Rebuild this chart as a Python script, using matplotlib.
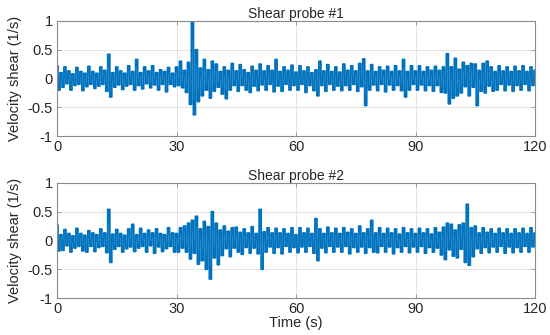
import numpy as np
import matplotlib
matplotlib.use("Agg")
import matplotlib.pyplot as plt

plt.rcParams['font.family'] = ['Liberation Sans', 'DejaVu Sans']
plt.rcParams['axes.unicode_minus'] = False

# Time axis: samples every 0.5 s from 0 to 120 s
time_s = np.arange(0, 120.01, 0.5)

# Probe #1 velocity shear (1/s), alternating peak readings
probe1 = [
    0.22, -0.2, 0.1, -0.15, 0.2, -0.09, 0.13, -0.2, 0.08, -0.12,
    0.19, -0.1, 0.12, -0.21, 0.09, -0.14, 0.21, -0.1, 0.12, -0.17,
    0.09, -0.13, 0.2, -0.1, 0.14, -0.22, 0.42, -0.32, 0.1, -0.15,
    0.2, -0.11, 0.13, -0.19, 0.09, -0.13, 0.22, -0.1, 0.12, -0.2,
    0.33, -0.12, 0.1, -0.18, 0.2, -0.09, 0.13, -0.16, 0.22, -0.11,
    0.1, -0.2, 0.15, -0.1, 0.12, -0.23, 0.19, -0.1, 0.09, -0.14,
    0.2, -0.12, 0.3, -0.16, 0.14, -0.24, 0.28, -0.45, 1.0, -0.63,
    0.5, -0.4, 0.18, -0.3, 0.33, -0.2, 0.15, -0.34, 0.3, -0.22,
    0.25, -0.15, 0.12, -0.27, 0.2, -0.35, 0.14, -0.2, 0.26, -0.12,
    0.13, -0.22, 0.24, -0.12, 0.15, -0.2, 0.1, -0.24, 0.21, -0.13,
    0.14, -0.21, 0.25, -0.11, 0.13, -0.2, 0.22, -0.1, 0.14, -0.23,
    0.33, -0.13, 0.12, -0.22, 0.2, -0.1, 0.14, -0.2, 0.23, -0.12,
    0.11, -0.2, 0.22, -0.1, 0.13, -0.24, 0.2, -0.12, 0.1, -0.21,
    0.15, -0.3, 0.3, -0.12, 0.13, -0.22, 0.24, -0.1, 0.12, -0.2,
    0.2, -0.13, 0.11, -0.21, 0.25, -0.12, 0.14, -0.2, 0.22, -0.1,
    0.13, -0.22, 0.26, -0.14, 0.34, -0.47, 0.13, -0.2, 0.24, -0.11,
    0.12, -0.21, 0.2, -0.1, 0.14, -0.23, 0.21, -0.11, 0.12, -0.2,
    0.22, -0.12, 0.13, -0.21, 0.33, -0.32, 0.12, -0.2, 0.22, -0.1,
    0.13, -0.2, 0.22, -0.11, 0.12, -0.21, 0.2, -0.12, 0.14, -0.22,
    0.21, -0.12, 0.14, -0.24, 0.2, -0.25, 0.43, -0.44, 0.2, -0.34,
    0.35, -0.3, 0.16, -0.25, 0.28, -0.14, 0.22, -0.3, 0.26, -0.15,
    0.25, -0.47, 0.14, -0.22, 0.26, -0.25, 0.3, -0.13, 0.2, -0.22,
    0.12, -0.2, 0.22, -0.1, 0.13, -0.21, 0.2, -0.11, 0.12, -0.22,
    0.21, -0.12, 0.13, -0.2, 0.22, -0.1, 0.12, -0.21, 0.2, -0.12, 0.14,
]

# Probe #2 velocity shear (1/s), alternating peak readings
probe2 = [
    0.27, -0.18, 0.1, -0.17, 0.19, -0.09, 0.12, -0.2, 0.08, -0.13,
    0.21, -0.1, 0.12, -0.18, 0.09, -0.2, 0.17, -0.1, 0.13, -0.19,
    0.1, -0.12, 0.2, -0.1, 0.13, -0.21, 0.54, -0.38, 0.11, -0.15,
    0.19, -0.1, 0.12, -0.2, 0.09, -0.14, 0.2, -0.11, 0.28, -0.19,
    0.1, -0.13, 0.21, -0.1, 0.12, -0.2, 0.18, -0.09, 0.13, -0.22,
    0.2, -0.11, 0.12, -0.19, 0.1, -0.14, 0.22, -0.1, 0.13, -0.2,
    0.12, -0.2, 0.22, -0.13, 0.25, -0.2, 0.3, -0.32, 0.35, -0.22,
    0.42, -0.41, 0.2, -0.35, 0.33, -0.5, 0.24, -0.67, 0.5, -0.3,
    0.3, -0.42, 0.18, -0.26, 0.25, -0.14, 0.16, -0.28, 0.22, -0.13,
    0.23, -0.2, 0.14, -0.24, 0.2, -0.12, 0.13, -0.22, 0.24, -0.13,
    0.12, -0.23, 0.54, -0.5, 0.15, -0.2, 0.22, -0.11, 0.13, -0.22,
    0.21, -0.12, 0.13, -0.23, 0.2, -0.1, 0.12, -0.2, 0.22, -0.12,
    0.1, -0.21, 0.22, -0.11, 0.13, -0.2, 0.21, -0.1, 0.12, -0.22,
    0.38, -0.35, 0.2, -0.13, 0.12, -0.21, 0.23, -0.1, 0.13, -0.2,
    0.21, -0.11, 0.12, -0.2, 0.22, -0.1, 0.14, -0.23, 0.2, -0.12,
    0.12, -0.2, 0.25, -0.11, 0.13, -0.22, 0.2, -0.12, 0.35, -0.2,
    0.13, -0.21, 0.22, -0.1, 0.12, -0.2, 0.21, -0.11, 0.13, -0.23,
    0.2, -0.12, 0.11, -0.2, 0.22, -0.1, 0.13, -0.21, 0.2, -0.11,
    0.12, -0.2, 0.21, -0.1, 0.13, -0.22, 0.2, -0.12, 0.11, -0.2,
    0.22, -0.13, 0.14, -0.25, 0.23, -0.33, 0.3, -0.16, 0.28, -0.27,
    0.18, -0.3, 0.27, -0.15, 0.3, -0.38, 0.63, -0.43, 0.22, -0.28,
    0.25, -0.14, 0.13, -0.22, 0.22, -0.12, 0.14, -0.21, 0.2, -0.11,
    0.12, -0.2, 0.21, -0.1, 0.13, -0.22, 0.2, -0.11, 0.12, -0.21,
    0.2, -0.12, 0.13, -0.2, 0.21, -0.1, 0.12, -0.2, 0.22, -0.11, 0.13,
]

titles = ["Shear probe #1", "Shear probe #2"]
x_ticks = [0, 30, 60, 90, 120]
y_ticks = [-1, -0.5, 0, 0.5, 1]
y_ticklabels = ["-1", "-0.5", "0", "0.5", "1"]

line_color = "#0072BD"
text_color = "#262626"
frame_color = "#8c8c8c"

fig = plt.figure(figsize=(5.5, 3.35), dpi=100)
positions = [
    [57 / 550, 1 - 136 / 335, 478 / 550, 115 / 335],
    [57 / 550, 1 - 298 / 335, 478 / 550, 115 / 335],
]

for pos, series, title in zip(positions, [probe1, probe2], titles):
    ax = fig.add_axes(pos)
    ax.step(time_s, series, where="mid", color=line_color, linewidth=1.3,
            snap=False, solid_joinstyle="round")
    ax.plot(time_s, series, color=line_color, linewidth=0.5, snap=False)
    ax.set_xlim(0, 120)
    ax.set_ylim(-1, 1)
    ax.set_xticks(x_ticks)
    ax.set_yticks(y_ticks)
    ax.set_yticklabels(y_ticklabels)
    ax.grid(True, color="#e3e3e3", linewidth=0.7)
    ax.set_axisbelow(True)
    ax.tick_params(direction="in", length=3, width=0.6, colors=frame_color,
                   labelcolor=text_color, labelsize=10.5, top=True, right=True,
                   pad=3)
    for sp in ax.spines.values():
        sp.set_color(frame_color)
        sp.set_linewidth(0.8)
    ax.set_title(title, fontsize=10, color=text_color, pad=2)
    ax.set_ylabel("Velocity shear (1/s)", fontsize=10.5, color=text_color, labelpad=4)

fig.axes[1].set_xlabel("Time (s)", fontsize=10.5, color=text_color, labelpad=0)

fig.savefig("out.png", dpi=100)
